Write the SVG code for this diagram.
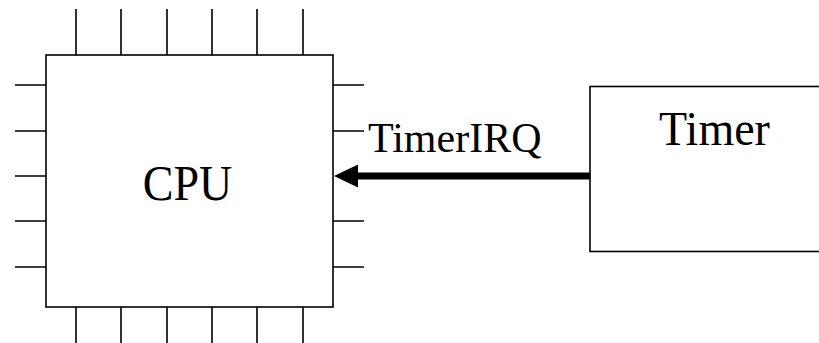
<svg xmlns="http://www.w3.org/2000/svg" width="819" height="343" viewBox="0 0 819 343">
<style>
.ln{stroke:#000;stroke-width:1.6;fill:none}
.box{stroke:#000;stroke-width:1.6;fill:#fff}
.t{font-family:"Liberation Serif","Times New Roman",serif;fill:#000}
</style>
<defs>
<marker id="ah" markerUnits="userSpaceOnUse" markerWidth="26" markerHeight="24" refX="8" refY="12" orient="auto" overflow="visible">
<path d="M0,0.5 L24,12 L0,23.5 Z" fill="#000"/>
</marker>
</defs>
<g id="cpu">
<g class="ln">
<path d="M76,9V55M121,9V55M167,9V55M212,9V55M257,9V55M303,9V55"/>
<path d="M76,297V343M121,297V343M167,297V343M212,297V343M257,297V343M303,297V343"/>
<path d="M15,85H46M15,131H46M15,176H46M15,221H46M15,267H46"/>
<path d="M333,85H364M333,131H364M333,221H364M333,267H364"/>
</g>
<rect class="box" x="46" y="55" width="287" height="252"/>
<text class="t" transform="translate(187.5,199.5) scale(1,1.08)" font-size="46" text-anchor="middle">CPU</text>
</g>
<g id="timer">
<rect class="box" x="590" y="86.5" width="240" height="165"/>
<text class="t" transform="translate(714.5,144.5) scale(1,1.06)" font-size="46" text-anchor="middle">Timer</text>
</g>
<g id="connectors">
<line x1="590" y1="176" x2="350" y2="176" stroke="#000" stroke-width="7" marker-end="url(#ah)"/>
<text class="t" x="368" y="152" font-size="42">TimerIRQ</text>
</g>
</svg>
